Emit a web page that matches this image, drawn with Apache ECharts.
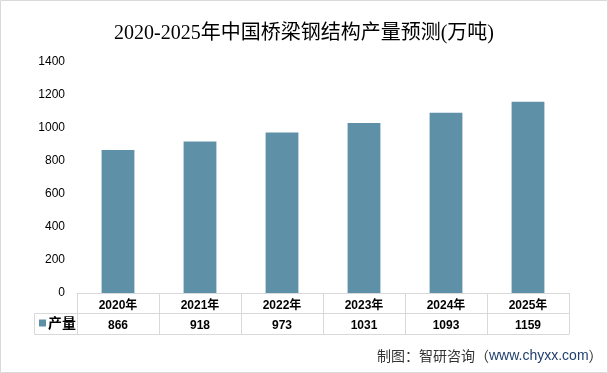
<!DOCTYPE html>
<html><head><meta charset="utf-8">
<script src="https://cdn.jsdelivr.net/npm/echarts@6/dist/echarts.min.js"></script>
<style>html,body{margin:0;padding:0;background:#fff}#c{width:608px;height:373px}</style>
</head><body><div id="c"></div>
<script>
const categories = ['2020年','2021年','2022年','2023年','2024年','2025年'];
const values = [866, 918, 973, 1031, 1093, 1159];
const seriesName = '产量';
const yTicks = [0, 200, 400, 600, 800, 1000, 1200, 1400];
const titleText = '2020-2025年中国桥梁钢结构产量预测(万吨)';

const chart = echarts.init(document.getElementById('c'));
const gridLeft = 77, gridRight = 39, gridTop = 62, gridBottom = 80;
const lineColor = '#d9d9d9';
const barColor = '#5e91a8';
chart.setOption({
  animation: false,
  title: {
    text: titleText, left: 'center', top: 19,
    textStyle: {fontFamily: 'Liberation Serif, Noto Sans CJK SC', fontSize: 20, fontWeight: 'normal', color: '#000'}
  },
  legend: {
    data: [seriesName], left: 34, top: 311, itemWidth: 7, itemHeight: 7, itemGap: 2,
    icon: 'rect',
    textStyle: {fontFamily: 'Noto Sans CJK SC', fontSize: 14, fontWeight: 'bold', color: '#000', padding: [0,0,0,-3]}
  },
  grid: {left: gridLeft, right: gridRight, top: gridTop, bottom: gridBottom},
  xAxis: [
    {type: 'category', data: categories, position: 'bottom',
     axisLine: {show: true, lineStyle: {color: lineColor}},
     axisTick: {show: true, length: 41, lineStyle: {color: lineColor}},
     axisLabel: {margin: 7, fontFamily: 'Liberation Sans, Noto Sans CJK SC', fontSize: 12, fontWeight: 'bold', color: '#000'}},
    {type: 'category', data: values.map(String), position: 'bottom', offset: 20,
     axisLine: {show: true, lineStyle: {color: lineColor}},
     axisTick: {show: false},
     axisLabel: {margin: 7, fontFamily: 'Liberation Sans', fontSize: 12, fontWeight: 'bold', color: '#000'}},
    {type: 'category', data: categories, position: 'bottom', offset: 41,
     axisLine: {show: true, lineStyle: {color: lineColor}},
     axisTick: {show: false}, axisLabel: {show: false}}
  ],
  yAxis: {
    type: 'value', min: yTicks[0], max: yTicks[yTicks.length-1], interval: yTicks[1]-yTicks[0],
    axisLine: {show: false}, axisTick: {show: false}, splitLine: {show: false},
    axisLabel: {margin: 12, fontFamily: 'Liberation Sans', fontSize: 12, color: '#000', formatter: v => String(v)}
  },
  series: [{
    name: seriesName, type: 'bar', data: values, barWidth: '40%',
    itemStyle: {color: barColor}
  }],
  graphic: [
    {type: 'rect', shape: {x: 0.5, y: 0.5, width: 607, height: 372}, style: {fill: 'none', stroke: lineColor, lineWidth: 1}, silent: true},
    {type: 'line', shape: {x1: 34.5, y1: 313.5, x2: gridLeft, y2: 313.5}, style: {stroke: lineColor, lineWidth: 1}},
    {type: 'line', shape: {x1: 34.5, y1: 334.5, x2: gridLeft, y2: 334.5}, style: {stroke: lineColor, lineWidth: 1}},
    {type: 'line', shape: {x1: 34.5, y1: 313.5, x2: 34.5, y2: 334.5}, style: {stroke: lineColor, lineWidth: 1}},
    {type: 'text', left: 377, top: 349,
     style: {text: '{a|制图：智研咨询（}{b|www.chyxx.com}{a|）}',
       rich: {a: {fontFamily: 'Noto Sans CJK SC', fontSize: 14, fill: '#333'},
              b: {fontFamily: 'Liberation Sans', fontSize: 14, fill: '#1f3f6e'}}}}
  ]
});
</script></body></html>
